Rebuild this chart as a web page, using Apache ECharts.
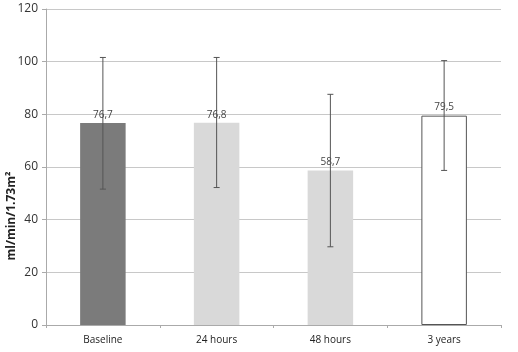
<!DOCTYPE html>
<html>
<head>
<meta charset="utf-8">
<script src="https://cdn.jsdelivr.net/npm/echarts@6/dist/echarts.min.js"></script>
<style>
  html, body { margin: 0; padding: 0; background: #fff; }
  #chart { width: 518px; height: 352px; }
</style>
</head>
<body>
<div id="chart"></div>
<script>
const categories = ['Baseline', '24 hours', '48 hours', '3 years']
const means = [76.7, 76.8, 58.7, 79.5]
const lower = [51.6, 52.2, 29.7, 58.7]
const upper = [101.6, 101.6, 87.6, 100.4]
const barColors = ['#7b7b7b', '#d9d9d9', '#d9d9d9', '#ffffff']
const yTitle = 'ml/min/1.73m²'

const chart = echarts.init(document.getElementById('chart'))

chart.setOption({
    animation: false,
    grid: { left: 46, right: 17, top: 9, bottom: 27, containLabel: false, outerBoundsMode: 'none' },
    // axis title drawn by hand, v6 keeps pushing the axis name off the canvas
    graphic: [
        {
            type: 'text',
            x: 12,
            y: 216,
            rotation: Math.PI / 2,
            style: {
                text: yTitle,
                fill: '#222',
                font: 'bold 12px "Open Sans"',
                align: 'center',
                verticalAlign: 'middle',
            },
        },
    ],
    xAxis: {
        type: 'category',
        data: categories,
        axisLine: { lineStyle: { color: '#aaaaaa' } },
        axisTick: { show: true, alignWithLabel: false, length: 3, lineStyle: { color: '#aaaaaa' } },
        axisLabel: { color: '#222', fontSize: 10, fontFamily: 'Open Sans', margin: 10 },
    },
    yAxis: {
        type: 'value',
        min: 0,
        max: 120,
        interval: 20,
        axisLine: { show: true, lineStyle: { color: '#aaaaaa' } },
        axisTick: { show: true, length: 4, lineStyle: { color: '#aaaaaa' } },
        axisLabel: { color: '#333', fontSize: 12, fontFamily: 'Open Sans', margin: 8 },
        splitLine: { lineStyle: { color: '#c8c8c8' } },
    },
    series: [
        {
            type: 'bar',
            barWidth: '40%',
            data: means.map((v, i) => ({
                value: v,
                itemStyle: {
                    color: barColors[i],
                    borderColor: i === 3 ? '#555555' : barColors[i],
                    borderWidth: i === 3 ? 1 : 0,
                },
            })),
            label: {
                show: true,
                position: 'top',
                distance: 3,
                color: '#444',
                fontSize: 10,
                fontFamily: 'Open Sans',
                formatter: (p) => String(p.value).replace('.', ','),
            },
            z: 2,
        },
        {
            type: 'custom',
            z: 3,
            data: categories.map((c, i) => [i, lower[i], upper[i]]),
            renderItem: function (params, api) {
                const lo = api.coord([api.value(0), api.value(1)])
                const hi = api.coord([api.value(0), api.value(2)])
                const w = 3
                const style = { stroke: '#555555', lineWidth: 1 }
                return {
                    type: 'group',
                    children: [
                        { type: 'line', shape: { x1: hi[0], y1: hi[1], x2: lo[0], y2: lo[1] }, style },
                        { type: 'line', shape: { x1: hi[0] - w, y1: hi[1], x2: hi[0] + w, y2: hi[1] }, style },
                        { type: 'line', shape: { x1: lo[0] - w, y1: lo[1], x2: lo[0] + w, y2: lo[1] }, style },
                    ],
                }
            },
        },
    ],
})
</script>
</body>
</html>
